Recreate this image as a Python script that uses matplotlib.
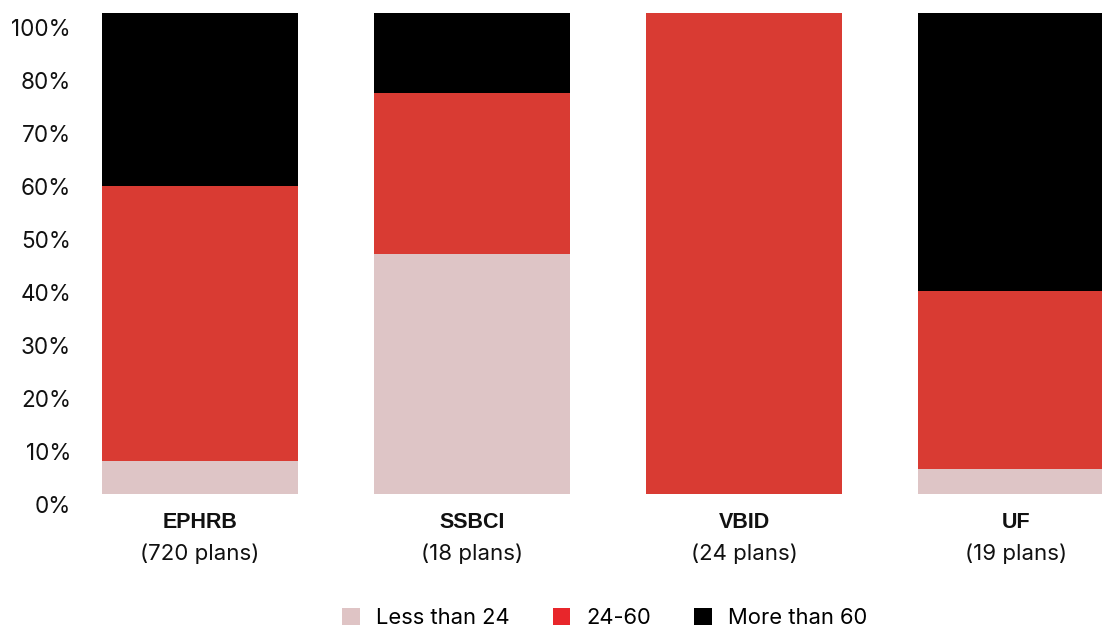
import matplotlib
matplotlib.use("Agg")
import matplotlib.pyplot as plt
from matplotlib.patches import Patch
from matplotlib.transforms import blended_transform_factory, offset_copy
import numpy as np

# Share of plans by term length (%)
programs = ["EPHRB", "SSBCI", "VBID", "UF"]
plan_counts = ["(720 plans)", "(18 plans)", "(24 plans)", "(19 plans)"]
less_than_24 = [6.9, 50.0, 0.0, 5.3]
between_24_60 = [57.2, 33.3, 100.0, 36.8]
more_than_60 = [35.9, 16.7, 0.0, 57.9]

series_names = ["Less than 24", "24-60", "More than 60"]
tick_labels = ["0%", "10%", "20%", "30%", "40%", "50%", "60%", "70%", "80%", "100%"]

bar_colors = ["#dec5c6", "#d93b33", "#000000"]
legend_colors = ["#dfc4c5", "#e8262b", "#000000"]

W, H = 1102, 628
fig = plt.figure(figsize=(W / 100, H / 100), dpi=100)
ax = fig.add_axes([102 / W, (H - 494) / H, 1 - 102 / W, 481 / H])

x = np.arange(len(programs))
width = 196 / 272
bottom = np.zeros(len(programs))
for vals, col in zip([less_than_24, between_24_60, more_than_60], bar_colors):
    vals = np.array(vals)
    ax.bar(x, vals, width=width, bottom=bottom, color=col, align="edge", linewidth=0)
    bottom += vals

ax.set_xticks([])
ax.set_yticks([])
ax.set_xlim(0, (W - 102) / 272)
ax.set_ylim(0, 100)
for s in ax.spines.values():
    s.set_visible(False)

# Percentage labels run evenly down the left margin
lab_tr = offset_copy(blended_transform_factory(ax.transAxes, ax.transData),
                     fig=fig, x=-31, y=0, units="dots")
for yv, lab in zip(np.linspace(-2.8, 96.5, len(tick_labels)), tick_labels):
    ax.text(0, yv, lab, transform=lab_tr, ha="right", va="center",
            fontsize=16.2, family="Inter", color="#111111", clip_on=False)

# Program names and plan counts under each bar
for xi, name, cnt in zip(x, programs, plan_counts):
    cx = xi + width / 2
    ax.text(cx, -5.9, name, ha="center", va="center", fontsize=15.5,
            fontweight="bold", family="Liberation Sans", color="#111111",
            clip_on=False)
    ax.text(cx, -12.4, cnt, ha="center", va="center", fontsize=16,
            family="Inter", color="#111111", clip_on=False)

handles = [Patch(facecolor=c, edgecolor="none") for c in legend_colors]
fig.legend(handles, series_names, loc="center", bbox_to_anchor=(605 / W, 1 - 618 / H),
           ncol=3, frameon=False, handlelength=0.8, handleheight=0.8,
           handletextpad=0.75, columnspacing=1.95,
           prop={"family": "Inter", "size": 15.8})

fig.savefig("out.png", dpi=100)
